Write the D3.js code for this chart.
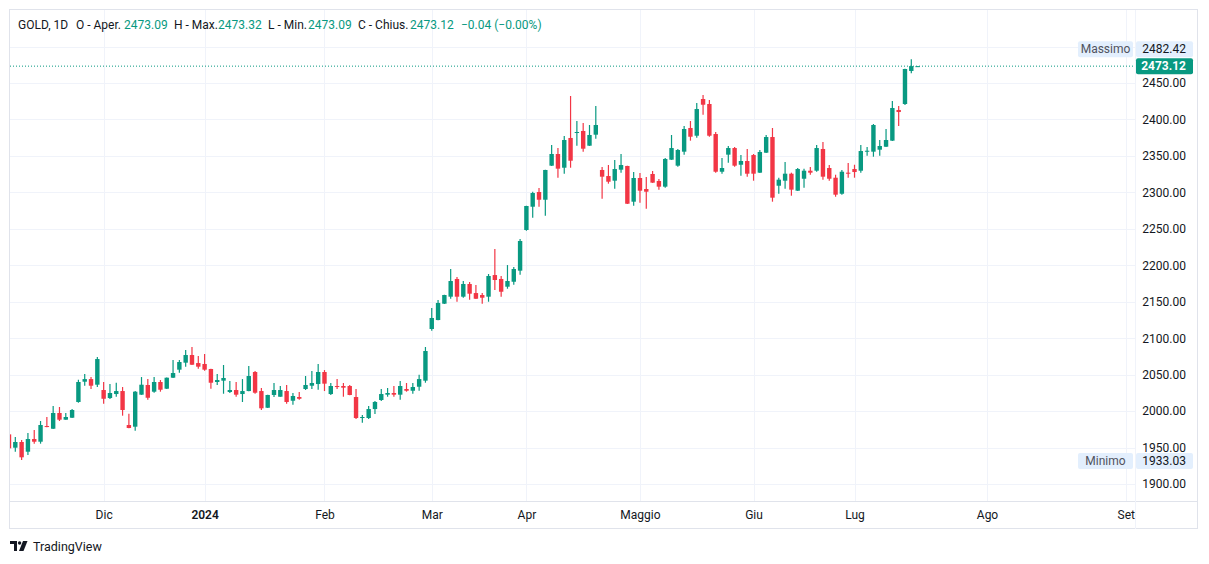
<!DOCTYPE html>
<html>
<head>
<meta charset="utf-8">
<script src="https://cdnjs.cloudflare.com/ajax/libs/d3/7.8.5/d3.min.js"></script>
<style>
  body { margin: 0; background: #fff; }
  svg { display: block; font-family: Roboto, "Liberation Sans", sans-serif; }
</style>
</head>
<body>
<script>
// daily bars, GOLD 1D
let opens = [1968.1,1949.8,1957.6,1944.3,1961.7,1958.0,1979.5,1975.8,1997.4,1988.2,
  1990.9,2012.5,2040.3,2043.9,2036.2,2028.9,2017.9,2023.4,2027.5,1980.9,
  1978.6,2022.5,2035.8,2026.6,2039.9,2030.7,2045.8,2056.8,2066.4,2076.9,
  2065.9,2064.6,2057.7,2039.9,2041.7,2026.2,2028.9,2023.4,2027.5,2053.6,
  2027.5,2004.6,2022.1,2019.7,2027.5,2014.2,2019.3,2030.3,2034.8,2037.1,
  2053.6,2023.4,2034.4,2034.4,2034.4,2019.3,1990.5,1990.5,2002.8,2015.2,
  2022.5,2024.8,2022.5,2030.3,2027.9,2033.4,2041.7,2112.6,2124.9,2147.3,
  2156.9,2181.2,2156.9,2174.3,2161.9,2159.2,2156.9,2186.6,2181.2,2170.6,
  2177.4,2192.6,2248.4,2280.3,2300.5,2289.9,2336.6,2352.6,2333.8,2374.6,
  2381.8,2384.2,2364.0,2379.1,2330.7,2322.4,2316.0,2331.1,2336.2,2287.2,
  2319.7,2304.6,2325.2,2315.6,2307.8,2344.8,2336.6,2355.8,2388.3,2377.7,
  2428.0,2421.2,2380.0,2328.3,2351.7,2360.8,2337.9,2343.0,2351.2,2327.0,
  2354.4,2375.9,2309.1,2316.0,2325.6,2302.3,2318.7,2329.7,2329.7,2359.5,
  2333.4,2320.1,2298.1,2327.0,2332.0,2329.7,2356.3,2355.8,2358.5,2362.6,
  2370.9,2413.0,2421.2,2466.5,2473.09];
let highs = [1970.0,1964.5,1960.3,1969.9,1974.1,1986.4,1991.9,2007.0,2005.6,1997.4,
  2002.8,2043.0,2050.9,2046.7,2074.2,2039.9,2037.1,2038.9,2033.0,1996.4,
  2027.5,2046.7,2043.9,2046.7,2042.6,2046.2,2070.1,2070.1,2083.8,2087.9,
  2075.5,2078.3,2058.0,2050.9,2063.2,2041.3,2039.9,2043.9,2061.8,2054.9,
  2031.7,2022.5,2038.5,2034.4,2035.8,2024.8,2026.2,2048.1,2055.0,2064.6,
  2056.3,2038.5,2043.9,2038.5,2035.8,2030.3,1994.6,2007.0,2013.8,2030.3,
  2031.7,2034.4,2041.3,2038.5,2038.5,2049.9,2087.9,2141.4,2152.3,2159.5,
  2194.9,2183.9,2178.4,2177.0,2172.9,2161.9,2188.0,2222.3,2185.3,2200.3,
  2197.6,2236.0,2281.5,2300.9,2306.0,2331.0,2364.9,2360.8,2377.3,2432.2,
  2397.9,2395.1,2392.4,2418.4,2334.8,2337.5,2344.4,2352.6,2336.5,2327.9,
  2326.5,2321.1,2329.3,2318.3,2347.1,2378.7,2359.5,2391.0,2397.9,2422.6,
  2433.5,2426.7,2382.8,2347.1,2363.6,2362.2,2351.2,2359.5,2352.6,2358.1,
  2378.7,2388.3,2320.1,2341.6,2327.0,2333.4,2332.4,2334.8,2364.9,2369.1,
  2337.5,2324.2,2330.7,2340.3,2337.9,2364.9,2362.2,2393.8,2371.8,2386.9,
  2425.3,2418.4,2469.5,2482.42,2473.32];
let lows = [1947.0,1944.3,1933.03,1939.8,1955.3,1955.3,1978.0,1975.5,1986.4,1988.0,
  1990.5,2011.5,2034.8,2030.3,2033.0,2010.1,2016.6,2019.7,1993.7,1976.5,
  1973.1,2022.3,2015.6,2025.2,2026.6,2030.3,2045.5,2052.6,2060.9,2063.3,
  2058.1,2055.4,2030.7,2035.8,2023.8,2024.8,2019.7,2012.5,2027.2,2023.8,
  2001.5,2004.2,2019.3,2019.5,2010.1,2008.7,2015.6,2028.9,2030.3,2029.3,
  2027.5,2022.1,2030.3,2019.7,2021.8,1989.1,1984.1,1989.1,1996.0,2013.8,
  2019.7,2019.7,2015.6,2026.6,2023.8,2027.9,2038.9,2110.2,2124.6,2147.0,
  2154.1,2150.0,2155.5,2152.8,2153.8,2147.3,2150.0,2166.1,2156.9,2167.8,
  2173.3,2187.0,2247.4,2265.2,2280.3,2268.0,2336.3,2320.1,2325.6,2333.8,
  2364.0,2355.8,2363.7,2373.6,2291.3,2311.9,2305.0,2327.0,2284.0,2281.7,
  2285.8,2277.6,2313.0,2303.7,2306.4,2344.5,2335.2,2351.7,2370.9,2375.0,
  2406.5,2376.3,2327.0,2325.6,2340.7,2335.2,2322.8,2321.5,2316.0,2326.5,
  2354.0,2287.2,2298.1,2305.0,2295.4,2302.0,2306.4,2324.2,2328.3,2317.4,
  2316.0,2294.0,2296.8,2320.1,2320.1,2327.0,2350.3,2348.9,2350.3,2362.3,
  2370.6,2391.0,2419.8,2463.3,2473.09];
let closes = [1948.9,1957.6,1936.6,1961.7,1958.0,1980.9,1978.2,1997.4,1988.2,1991.9,
  2001.5,2039.9,2043.9,2034.8,2071.4,2016.9,2024.8,2027.5,2001.5,1976.8,
  2026.6,2036.2,2018.3,2039.9,2029.3,2045.8,2052.2,2067.3,2076.9,2063.6,
  2060.9,2056.8,2038.9,2042.6,2045.4,2028.9,2022.5,2027.5,2048.1,2025.2,
  2003.8,2022.1,2028.9,2028.9,2012.5,2020.7,2016.9,2035.8,2038.5,2053.6,
  2037.6,2034.4,2033.0,2032.1,2022.1,1990.5,1991.9,2002.8,2012.5,2023.4,
  2024.8,2022.5,2034.4,2027.9,2033.0,2043.9,2082.4,2127.7,2148.3,2159.2,
  2178.4,2156.9,2174.3,2161.0,2154.1,2155.5,2185.3,2179.8,2163.7,2178.4,
  2194.9,2233.3,2281.3,2299.1,2289.9,2330.7,2352.6,2332.5,2371.8,2343.4,
  2382.8,2359.9,2378.7,2392.4,2321.5,2314.6,2332.0,2337.5,2284.4,2319.7,
  2302.3,2300.9,2313.3,2307.8,2345.8,2360.8,2358.1,2386.9,2376.3,2414.3,
  2420.2,2377.7,2328.3,2333.4,2360.8,2336.6,2343.0,2325.6,2325.6,2355.4,
  2375.9,2292.7,2317.4,2325.6,2303.7,2332.0,2329.7,2327.0,2360.8,2321.5,
  2318.7,2296.8,2328.3,2325.6,2327.9,2356.7,2357.1,2392.4,2363.6,2371.8,
  2415.7,2410.2,2469.2,2473.16,2473.12];

let monthLabels = ['Dic', '2024', 'Feb', 'Mar', 'Apr', 'Maggio', 'Giu', 'Lug', 'Ago', 'Set'];
let monthBars = [15, 31, 50, 67, 82, 100, 118, 134, 155, 177];
let yearLabels = ['2024'];
let priceTicks = [1900, 1950, 2000, 2050, 2100, 2150, 2200, 2250, 2300, 2350, 2400, 2450];
let gridPrices = [1900, 1950, 2000, 2050, 2100, 2150, 2200, 2250, 2300, 2350, 2400, 2450, 2500];

let green = '#089981';
let red = '#f23645';
let textColor = '#131722';

let svg = d3.select('body')
  .append('svg')
  .attr('width', 1209)
  .attr('height', 564);

let plotLeft = 10, plotRight = 1135, plotTop = 10, plotBottom = 501;

let x = d3.scaleLinear().domain([0, 144]).range([9, 917.6]);
let y = d3.scaleLinear().domain([1900, 2450]).range([484, 83]);

let bars = d3.range(opens.length).map(i => ({
  i: i, o: opens[i], h: highs[i], l: lows[i], c: closes[i]
}));

// frame
svg.append('rect')
  .attr('x', 9.5).attr('y', 9.5)
  .attr('width', 1188).attr('height', 519)
  .attr('fill', 'none')
  .attr('stroke', '#e0e3eb')
  .attr('stroke-width', 1);

svg.append('defs').append('clipPath').attr('id', 'plot')
  .append('rect')
  .attr('x', plotLeft).attr('y', plotTop)
  .attr('width', plotRight - plotLeft).attr('height', plotBottom - plotTop);

// grid
svg.append('g').selectAll('line').data(gridPrices)
  .enter().append('line')
  .attr('x1', plotLeft).attr('x2', plotRight)
  .attr('y1', d => Math.round(y(d)) + 0.5)
  .attr('y2', d => Math.round(y(d)) + 0.5)
  .attr('stroke', '#f0f3fa');

svg.append('g').selectAll('line').data(monthBars)
  .enter().append('line')
  .attr('x1', d => Math.round(x(d)) + 0.5)
  .attr('x2', d => Math.round(x(d)) + 0.5)
  .attr('y1', plotTop).attr('y2', plotBottom)
  .attr('stroke', '#f0f3fa');

// axis borders
svg.append('line')
  .attr('x1', plotLeft).attr('x2', 1198)
  .attr('y1', plotBottom + 0.5).attr('y2', plotBottom + 0.5)
  .attr('stroke', '#e0e3eb');
svg.append('line')
  .attr('x1', plotRight + 0.5).attr('x2', plotRight + 0.5)
  .attr('y1', plotTop).attr('y2', 529)
  .attr('stroke', '#f0f3fa');

// candles
let plot = svg.append('g').attr('clip-path', 'url(#plot)');

plot.selectAll('line.wick').data(bars)
  .enter().append('line')
  .attr('class', 'wick')
  .attr('x1', d => x(d.i)).attr('x2', d => x(d.i))
  .attr('y1', d => y(d.h)).attr('y2', d => y(d.l))
  .attr('stroke', d => d.c >= d.o ? green : red)
  .attr('stroke-width', 1.2);

plot.selectAll('rect.body').data(bars)
  .enter().append('rect')
  .attr('class', 'body')
  .attr('x', d => x(d.i) - 2.2)
  .attr('width', 4.4)
  .attr('y', d => y(Math.max(d.o, d.c)))
  .attr('height', d => Math.max(1, Math.abs(y(d.o) - y(d.c))))
  .attr('fill', d => d.c >= d.o ? green : red);

// last price line
let last = bars[bars.length - 1];
plot.append('line')
  .attr('x1', plotLeft).attr('x2', plotRight)
  .attr('y1', y(last.c)).attr('y2', y(last.c))
  .attr('stroke', green)
  .attr('stroke-width', 1)
  .attr('stroke-dasharray', '1,2');

// price axis
let yAxis = d3.axisRight(y)
  .tickValues(priceTicks)
  .tickSize(0)
  .tickPadding(0)
  .tickFormat(d3.format('.2f'));

let ya = svg.append('g')
  .attr('transform', 'translate(1186,0)')
  .call(yAxis);
ya.select('.domain').remove();
ya.selectAll('text')
  .attr('text-anchor', 'end')
  .attr('fill', textColor)
  .attr('font-size', 12)
  .attr('font-family', 'Roboto, sans-serif');

// time axis
let xAxis = d3.axisBottom(x)
  .tickValues(monthBars)
  .tickSize(0)
  .tickPadding(0)
  .tickFormat((d, i) => monthLabels[i]);

let xa = svg.append('g')
  .attr('transform', 'translate(0,510)')
  .call(xAxis);
xa.select('.domain').remove();
xa.selectAll('text')
  .attr('fill', textColor)
  .attr('font-size', 12)
  .attr('font-family', 'Roboto, sans-serif')
  .attr('font-weight', (d, i) => yearLabels.includes(monthLabels[i]) ? 600 : 400);

// price labels on the axis
function priceTag(value, yc, label, fill, color, bold) {
  let g = svg.append('g');
  if (label) {
    g.append('rect')
      .attr('x', 1078).attr('y', yc - 8)
      .attr('width', 55).attr('height', 16)
      .attr('rx', 2)
      .attr('fill', fill);
    g.append('text')
      .attr('x', 1105.5).attr('y', yc + 4)
      .attr('text-anchor', 'middle')
      .attr('font-size', 12)
      .attr('fill', '#50535e')
      .text(label);
  }
  g.append('rect')
    .attr('x', 1136).attr('y', yc - 8)
    .attr('width', 57).attr('height', 16)
    .attr('rx', 2)
    .attr('fill', fill);
  g.append('text')
    .attr('x', 1186).attr('y', yc + 4)
    .attr('text-anchor', 'end')
    .attr('font-size', 12)
    .attr('font-weight', bold ? 700 : 400)
    .attr('fill', color)
    .text(d3.format('.2f')(value));
}

let hi = d3.max(highs), lo = d3.min(lows);
priceTag(hi, y(hi) - 10, 'Massimo', '#e3effd', textColor, false);
priceTag(last.c, y(last.c), null, green, '#ffffff', true);
priceTag(lo, y(lo) + 1, 'Minimo', '#e3effd', textColor, false);

// legend
let legend = [
  { x: 18, t: 'GOLD, 1D', c: textColor },
  { x: 76, t: 'O - Aper.', c: textColor },
  { x: 124, t: d3.format('.2f')(last.o), c: green },
  { x: 174, t: 'H - Max.', c: textColor },
  { x: 218, t: d3.format('.2f')(last.h), c: green },
  { x: 268, t: 'L - Min.', c: textColor },
  { x: 308, t: d3.format('.2f')(last.l), c: green },
  { x: 358, t: 'C - Chius.', c: textColor },
  { x: 410, t: d3.format('.2f')(last.c), c: green },
  { x: 461, t: '\u22120.04 (\u22120.00%)', c: green }
];
svg.append('g').selectAll('text').data(legend)
  .enter().append('text')
  .attr('x', d => d.x).attr('y', 29)
  .attr('font-size', 12)
  .attr('fill', d => d.c)
  .text(d => d.t);

// TradingView mark
let logo = svg.append('g').attr('fill', '#131722');
logo.append('path').attr('d', 'M10,541 H17 V551 H14 V544 H10 Z');
logo.append('circle').attr('cx', 19.6).attr('cy', 543).attr('r', 1.7);
logo.append('path').attr('d', 'M23,541 H27.5 L23.5,551 H19 Z');
svg.append('text')
  .attr('x', 33).attr('y', 551)
  .attr('font-size', 12.5)
  .attr('fill', '#131722')
  .text('TradingView');
</script>
</body>
</html>
